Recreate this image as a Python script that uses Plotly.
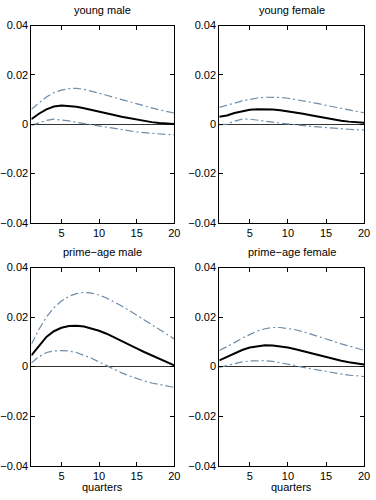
import plotly.graph_objects as go

quarters = list(range(1, 21))
titles = ["young male", "young female", "prime\u2212age male", "prime\u2212age female"]

ym_mid = [0.0020,0.0042,0.0060,0.0071,0.0075,0.0074,0.0070,0.0064,0.0058,0.0051,0.0044,0.0037,0.0030,0.0024,0.0018,0.0012,0.0008,0.0004,0.0001,0.0000]
ym_up = [0.0060,0.0085,0.0110,0.0128,0.0138,0.0144,0.0145,0.0141,0.0134,0.0126,0.0117,0.0108,0.0099,0.0090,0.0082,0.0074,0.0066,0.0058,0.0051,0.0045]
ym_lo = [-0.0005,0.0005,0.0015,0.0020,0.0018,0.0013,0.0007,0.0002,-0.0004,-0.0009,-0.0014,-0.0019,-0.0024,-0.0028,-0.0032,-0.0035,-0.0038,-0.0040,-0.0042,-0.0043]

yf_mid = [0.0030,0.0035,0.0045,0.0053,0.0058,0.0060,0.0060,0.0059,0.0056,0.0052,0.0047,0.0042,0.0036,0.0030,0.0024,0.0019,0.0014,0.0010,0.0007,0.0005]
yf_up = [0.0068,0.0075,0.0085,0.0094,0.0101,0.0106,0.0109,0.0110,0.0108,0.0105,0.0100,0.0095,0.0089,0.0083,0.0076,0.0070,0.0064,0.0058,0.0052,0.0046]
yf_lo = [-0.0003,0.0000,0.0012,0.0020,0.0020,0.0017,0.0013,0.0008,0.0004,0.0000,-0.0003,-0.0006,-0.0009,-0.0012,-0.0015,-0.0017,-0.0019,-0.0021,-0.0023,-0.0024]

pm_mid = [0.0045,0.0085,0.0120,0.0143,0.0157,0.0164,0.0165,0.0162,0.0155,0.0145,0.0133,0.0119,0.0104,0.0089,0.0074,0.0059,0.0045,0.0031,0.0017,0.0005]
pm_up = [0.0090,0.0150,0.0200,0.0238,0.0265,0.0284,0.0295,0.0300,0.0297,0.0289,0.0277,0.0262,0.0245,0.0227,0.0208,0.0189,0.0170,0.0151,0.0131,0.0112]
pm_lo = [0.0015,0.0040,0.0057,0.0063,0.0065,0.0063,0.0057,0.0047,0.0034,0.0019,0.0004,-0.0011,-0.0025,-0.0037,-0.0048,-0.0058,-0.0066,-0.0073,-0.0079,-0.0084]

pf_mid = [0.0025,0.0040,0.0055,0.0067,0.0077,0.0083,0.0086,0.0085,0.0082,0.0077,0.0070,0.0062,0.0054,0.0046,0.0038,0.0031,0.0024,0.0018,0.0013,0.0009]
pf_up = [0.0065,0.0080,0.0097,0.0115,0.0131,0.0144,0.0153,0.0158,0.0158,0.0155,0.0149,0.0141,0.0132,0.0122,0.0112,0.0102,0.0092,0.0083,0.0074,0.0066]
pf_lo = [-0.0003,0.0005,0.0013,0.0019,0.0023,0.0025,0.0024,0.0021,0.0016,0.0010,0.0004,-0.0003,-0.0009,-0.0015,-0.0021,-0.0026,-0.0030,-0.0034,-0.0037,-0.0040]

y_tickvals = [-0.04, -0.02, 0, 0.02, 0.04]
y_ticktext = ["\u22120.04", "\u22120.02", "0", "0.02", "0.04"]
x_tickvals = [5, 10, 15, 20]

panels = [(ym_mid, ym_up, ym_lo), (yf_mid, yf_up, yf_lo), (pm_mid, pm_up, pm_lo), (pf_mid, pf_up, pf_lo)]

W, H = 376, 500
xdoms = [[30 / W, 176 / W], [222 / W, 370 / W]]
ydoms = [[1 - 222 / H, 1 - 20 / H], [1 - 471 / H, 1 - 268 / H]]

fig = go.Figure()
band_color = "#6f8ca8"
font = dict(family="Liberation Sans, Arial, sans-serif", size=11, color="black")

for i, (mid, up, lo) in enumerate(panels):
    n = i + 1
    xa = "x" if n == 1 else f"x{n}"
    ya = "y" if n == 1 else f"y{n}"
    for band in (up, lo):
        fig.add_trace(go.Scatter(x=quarters, y=band, mode="lines", xaxis=xa, yaxis=ya,
                                 line=dict(color=band_color, width=1.2, dash="8px,3px,2px,3px"),
                                 showlegend=False, hoverinfo="skip"))
    fig.add_trace(go.Scatter(x=quarters, y=mid, mode="lines", xaxis=xa, yaxis=ya,
                             line=dict(color="black", width=2), showlegend=False, hoverinfo="skip"))
    row, col = divmod(i, 2)
    axcommon = dict(showline=True, linecolor="black", linewidth=1, mirror="ticks",
                    ticks="inside", ticklen=4, tickcolor="black", showgrid=False,
                    tickfont=font)
    fig.layout[("xaxis" if n == 1 else f"xaxis{n}")] = dict(
        domain=xdoms[col], range=[1, 20], tickvals=x_tickvals, zeroline=False,
        anchor=ya, **axcommon)
    fig.layout[("yaxis" if n == 1 else f"yaxis{n}")] = dict(
        domain=ydoms[row], range=[-0.04, 0.04], tickvals=y_tickvals, ticktext=y_ticktext,
        zeroline=True, zerolinecolor="#333333", zerolinewidth=1, anchor=xa, **axcommon)
    fig.add_annotation(text=titles[i], x=(xdoms[col][0] + xdoms[col][1]) / 2,
                       y=ydoms[row][1], xref="paper", yref="paper", xanchor="center",
                       yanchor="bottom", yshift=8, showarrow=False, font=font)

for col in range(2):
    fig.add_annotation(text="quarters", x=(xdoms[col][0] + xdoms[col][1]) / 2,
                       y=1 - 493 / H, xref="paper", yref="paper", xanchor="center",
                       yanchor="middle", showarrow=False, font=font)

fig.update_layout(width=W, height=H, margin=dict(l=0, r=0, t=0, b=0),
                  paper_bgcolor="white", plot_bgcolor="white", font=font)

fig.write_html("out.html", config={"displayModeBar": False},
               post_script="document.body.style.margin='0';document.body.style.overflow='hidden';")
